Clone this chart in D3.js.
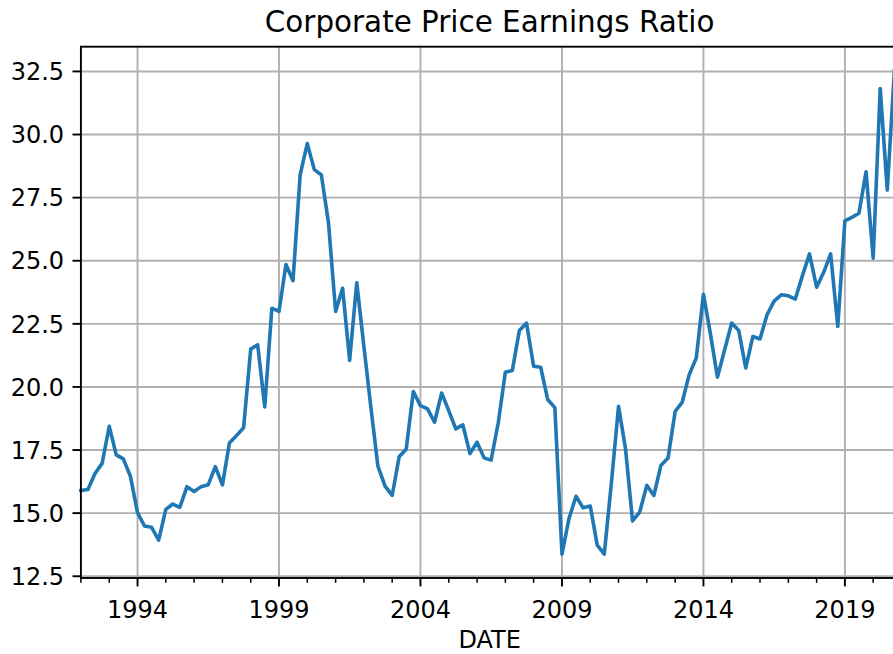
<!DOCTYPE html>
<html>
<head>
<meta charset="utf-8">
<script src="https://cdn.jsdelivr.net/npm/d3@7"></script>
<style>
  body { margin: 0; background: #fff; }
  svg { display: block; font-family: "DejaVu Sans", sans-serif; }
</style>
</head>
<body>
<div id="chart"></div>
<script>

// quarterly PE ratio, 1992 Q1 .. 2020 Q4 (one row per year)
var firstQuarter = "1992-01-01";
var peValues = [
    15.90, 15.94, 16.57, 16.97,   // 1992
    18.44, 17.31, 17.15, 16.46,   // 1993
    15.02, 14.49, 14.44, 13.93,   // 1994
    15.15, 15.36, 15.23, 16.05,   // 1995
    15.86, 16.05, 16.12, 16.84,   // 1996
    16.12, 17.78, 18.07, 18.38,   // 1997
    21.50, 21.67, 19.21, 23.12,   // 1998
    22.99, 24.85, 24.21, 28.40,   // 1999
    29.64, 28.61, 28.40, 26.50,   // 2000
    22.99, 23.91, 21.05, 24.13,   // 2001
    21.60, 19.20, 16.86, 16.07,   // 2002
    15.70, 17.23, 17.53, 19.82,   // 2003
    19.26, 19.13, 18.60, 19.76,   // 2004
    19.05, 18.34, 18.50, 17.36,   // 2005
    17.81, 17.19, 17.10, 18.57,   // 2006
    20.58, 20.65, 22.24, 22.53,   // 2007
    20.82, 20.78, 19.50, 19.18,   // 2008
    13.37, 14.78, 15.67, 15.21,   // 2009
    15.28, 13.73, 13.38, 16.20,   // 2010
    19.23, 17.55, 14.69, 15.04,   // 2011
    16.10, 15.70, 16.89, 17.18,   // 2012
    19.03, 19.39, 20.48, 21.15,   // 2013
    23.67, 22.10, 20.39, 21.46,   // 2014
    22.53, 22.24, 20.75, 22.00,   // 2015
    21.90, 22.86, 23.40, 23.65,   // 2016
    23.61, 23.48, 24.40, 25.27,   // 2017
    23.95, 24.53, 25.27, 22.40,   // 2018
    26.58, 26.72, 26.88, 28.52,   // 2019
    25.10, 31.82, 27.80, 32.54    // 2020
];
var majorYears = [1994, 1999, 2004, 2009, 2014, 2019];
var yTicks = [12.5, 15.0, 17.5, 20.0, 22.5, 25.0, 27.5, 30.0, 32.5];
var titleText = "Corporate Price Earnings Ratio";
var xLabel = "DATE";

// plot box (window.top is reserved, so use margin object)
var W = 893, H = 654;
var box = { left: 80.9, right: 894.4, top: 46.7, bottom: 578 };

var start = d3.timeParse("%Y-%m-%d")(firstQuarter);
var data = peValues.map(function (v, i) {
    return { date: d3.timeMonth.offset(start, i * 3), pe: v };
});

var x = d3.scaleTime()
    .domain(d3.extent(data, function (d) { return d.date; }))
    .range([box.left, box.right]);
var y = d3.scaleLinear().domain([12.43, 33.48]).range([box.bottom, box.top]);

var svg = d3.select("#chart").append("svg")
    .attr("width", W).attr("height", H);

var majorDates = majorYears.map(function (yr) { return new Date(yr, 0, 1); });
var minorDates = d3.timeYear.range(x.domain()[0], x.domain()[1]).filter(function (d) {
    return majorYears.indexOf(d.getFullYear()) < 0;
});

// grid
svg.append("g").selectAll("line")
    .data(majorDates).join("line")
    .attr("x1", function (d) { return x(d); }).attr("x2", function (d) { return x(d); })
    .attr("y1", box.top).attr("y2", box.bottom)
    .attr("stroke", "#b0b0b0").attr("stroke-width", 1.9);

svg.append("g").selectAll("line")
    .data(yTicks).join("line")
    .attr("x1", box.left).attr("x2", box.right)
    .attr("y1", function (d) { return y(d); }).attr("y2", function (d) { return y(d); })
    .attr("stroke", "#b0b0b0").attr("stroke-width", 1.9);

// the series
var line = d3.line()
    .x(function (d) { return x(d.date); })
    .y(function (d) { return y(d.pe); });

svg.append("path")
    .datum(data)
    .attr("d", line)
    .attr("fill", "none")
    .attr("stroke", "#1f77b4")
    .attr("stroke-width", 3.6)
    .attr("stroke-linejoin", "round")
    .attr("stroke-linecap", "square");

// spines
svg.append("rect")
    .attr("x", box.left).attr("y", box.top)
    .attr("width", box.right - box.left).attr("height", box.bottom - box.top)
    .attr("fill", "none").attr("stroke", "#000").attr("stroke-width", 1.9);

// x axis
var xAxis = svg.append("g").attr("transform", "translate(0," + box.bottom + ")");
xAxis.selectAll("line.minor")
    .data(minorDates).join("line")
    .attr("class", "minor")
    .attr("x1", function (d) { return x(d); }).attr("x2", function (d) { return x(d); })
    .attr("y1", 0).attr("y2", 4.8)
    .attr("stroke", "#000").attr("stroke-width", 1.5);
xAxis.selectAll("line.major")
    .data(majorDates).join("line")
    .attr("class", "major")
    .attr("x1", function (d) { return x(d); }).attr("x2", function (d) { return x(d); })
    .attr("y1", 0).attr("y2", 8.4)
    .attr("stroke", "#000").attr("stroke-width", 1.9);
xAxis.selectAll("text")
    .data(majorDates).join("text")
    .attr("x", function (d) { return x(d); })
    .attr("y", 39.5)
    .attr("text-anchor", "middle")
    .style("font-size", "24px")
    .text(d3.timeFormat("%Y"));

// y axis
var yAxis = svg.append("g");
yAxis.selectAll("line")
    .data(yTicks).join("line")
    .attr("x1", box.left - 8.4).attr("x2", box.left)
    .attr("y1", function (d) { return y(d); }).attr("y2", function (d) { return y(d); })
    .attr("stroke", "#000").attr("stroke-width", 1.9);
yAxis.selectAll("text")
    .data(yTicks).join("text")
    .attr("x", box.left - 16.8)
    .attr("y", function (d) { return y(d) + 8.7; })
    .attr("text-anchor", "end")
    .style("font-size", "24px")
    .text(d3.format(".1f"));

// labels
svg.append("text")
    .attr("x", (box.left + box.right) / 2 + 2).attr("y", 31.5)
    .attr("text-anchor", "middle")
    .style("font-size", "29.4px")
    .text(titleText);

svg.append("text")
    .attr("x", (box.left + box.right) / 2 + 2).attr("y", 648)
    .attr("text-anchor", "middle")
    .style("font-size", "24px")
    .text(xLabel);

</script>
</body>
</html>
